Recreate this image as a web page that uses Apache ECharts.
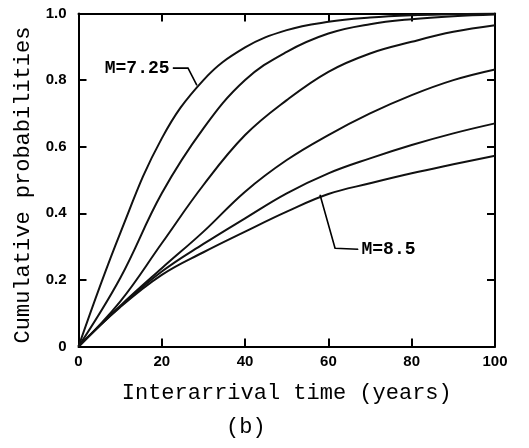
<!DOCTYPE html>
<html>
<head>
<meta charset="utf-8">
<script src="https://cdn.jsdelivr.net/npm/echarts@6/dist/echarts.min.js"></script>
<style>
  html, body { margin: 0; padding: 0; background: #fff; }
  #chart { width: 529px; height: 448px; }
</style>
</head>
<body>
<div id="chart"></div>
<script>
// interarrival time (years)
const years = [0, 10, 20, 30, 40, 50, 60, 70, 80, 90, 100];

// cumulative probabilities, curves from M=7.25 (top) down to M=8.5 (bottom)
const curveA = [0, 0.34, 0.625, 0.80, 0.898, 0.95, 0.975, 0.988, 0.995, 0.998, 1.0];
const curveB = [0, 0.205, 0.46, 0.655, 0.80, 0.885, 0.94, 0.968, 0.983, 0.992, 0.997];
const curveC = [0, 0.135, 0.31, 0.485, 0.635, 0.74, 0.825, 0.88, 0.915, 0.945, 0.965];
const curveD = [0, 0.122, 0.235, 0.345, 0.465, 0.56, 0.635, 0.70, 0.755, 0.80, 0.832];
const curveE = [0, 0.12, 0.225, 0.308, 0.385, 0.46, 0.52, 0.565, 0.605, 0.64, 0.67];
const curveF = [0, 0.118, 0.215, 0.283, 0.345, 0.405, 0.458, 0.49, 0.52, 0.547, 0.573];

const xTickLabels = ['0', '20', '40', '60', '80', '100'];
const yTickLabels = ['0', '0.2', '0.4', '0.6', '0.8', '1.0'];

// leader lines for the two labels, [t, p]
const leaderTop = [[28.4, 0.785], [26.3, 0.836], [22.7, 0.836]];
const leaderBottom = [[58, 0.455], [61.6, 0.295], [67.1, 0.292]];
const labelTop = 'M=7.25';
const labelBottom = 'M=8.5';

const chart = echarts.init(document.getElementById('chart'));

const curves = [curveA, curveB, curveC, curveD, curveE, curveF];
const zip = arr => years.map((t, i) => [t, arr[i]]);

const frameAxis = {
  type: 'value',
  min: 0,
  axisLine: { show: true, onZero: false, lineStyle: { color: '#000', width: 2 } },
  axisTick: { show: true, inside: true, length: 8, lineStyle: { color: '#000', width: 2 } },
  splitLine: { show: false }
};

const series = curves.map(c => ({
  type: 'line',
  data: zip(c),
  smooth: 0.4,
  symbol: 'none',
  lineStyle: { color: '#111', width: 2 },
  silent: true
}));

function leader(points, text, pos) {
  return {
    type: 'line',
    data: points.map((p, i) => ({
      value: p,
      label: i === points.length - 1 ? {
        show: true,
        position: pos,
        distance: 3,
        formatter: text,
        color: '#000',
        fontFamily: 'Liberation Mono',
        fontWeight: 'bold',
        fontSize: 18
      } : { show: false }
    })),
    symbol: 'circle',
    symbolSize: 1,
    showSymbol: true,
    itemStyle: { color: '#000' },
    lineStyle: { color: '#000', width: 1.6 },
    silent: true
  };
}
series.push(leader(leaderTop, labelTop, 'left'));
series.push(leader(leaderBottom, labelBottom, 'right'));

const option = {
  backgroundColor: '#fff',
  animation: false,
  grid: { left: 78.5, right: 34, top: 13.5, bottom: 101.5 },
  xAxis: [
    Object.assign({}, frameAxis, {
      max: 100,
      interval: 20,
      position: 'bottom',
      axisLabel: {
        color: '#000', fontFamily: 'Liberation Sans', fontWeight: 'bold', fontSize: 15, margin: 8,
        formatter: v => xTickLabels[Math.round(v / 20)]
      },
      name: 'Interarrival time (years)',
      nameLocation: 'middle',
      nameGap: 36,
      nameTextStyle: { color: '#000', fontFamily: 'Liberation Mono', fontSize: 22 }
    }),
    Object.assign({}, frameAxis, {
      max: 100, interval: 20, position: 'top', axisLabel: { show: false }
    })
  ],
  yAxis: [
    Object.assign({}, frameAxis, {
      max: 1,
      interval: 0.2,
      position: 'left',
      axisLabel: {
        color: '#000', fontFamily: 'Liberation Sans', fontWeight: 'bold', fontSize: 15, margin: 12,
        formatter: v => yTickLabels[Math.round(v / 0.2)]
      },
      name: 'Cumulative probabilities',
      nameLocation: 'middle',
      nameGap: 44,
      nameTextStyle: { color: '#000', fontFamily: 'Liberation Mono', fontSize: 22, padding: [0, 10, 0, 0] }
    }),
    Object.assign({}, frameAxis, {
      max: 1, interval: 0.2, position: 'right', axisLabel: { show: false }
    })
  ],
  graphic: [{
    type: 'text',
    left: 226,
    top: 416,
    style: { text: '(b)', fill: '#000', font: '22px "Liberation Mono"' }
  }],
  series: series
};

chart.setOption(option);
</script>
</body>
</html>
